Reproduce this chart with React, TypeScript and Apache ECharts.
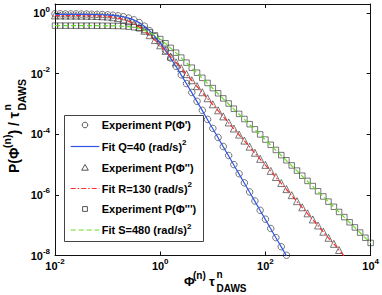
import React, { useEffect, useRef } from 'react';
import * as echarts from 'echarts';

// Φ^(n) τ^n grid (log-spaced, 10 per decade)
const phiGrid = [
  0.01, 0.0126, 0.0158, 0.02, 0.0251, 0.0316, 0.0398, 0.0501, 0.0631, 0.0794,
  0.1, 0.126, 0.158, 0.2, 0.251, 0.316, 0.398, 0.501, 0.631, 0.794,
  1, 1.26, 1.58, 2, 2.51, 3.16, 3.98, 5.01, 6.31, 7.94,
  10, 12.6, 15.8, 20, 25.1, 31.6, 39.8, 50.1, 63.1, 79.4,
  100, 126, 158, 200, 251, 316, 398, 501, 631, 794,
  1000, 1260, 1580, 2000, 2510, 3160, 3980, 5010, 6310, 7940,
  10000,
];

// Experiment P(Φ')  (circles)
const expPhi1 = [
  0.95, 0.95, 0.94, 0.94, 0.94, 0.93, 0.93, 0.92, 0.91, 0.9,
  0.88, 0.855, 0.815, 0.76, 0.69, 0.6, 0.49, 0.372, 0.262, 0.168,
  0.104, 0.0598, 0.033, 0.0176, 0.0092, 0.00472, 0.00241, 0.00123, 6.2e-4, 3.1e-4,
  1.57e-4, 7.9e-5, 3.95e-5, 2.0e-5, 1.0e-5, 5.0e-6, 2.5e-6, 1.25e-6, 6.3e-7, 3.1e-7,
  1.58e-7, 7.8e-8, 3.9e-8, 1.95e-8, 1.02e-8,
];
// Fit Q=40
const fitQ = [
  0.912, 0.912, 0.91, 0.91, 0.909, 0.908, 0.906, 0.901, 0.894, 0.885,
  0.869, 0.845, 0.809, 0.759, 0.687, 0.596, 0.486, 0.37, 0.261, 0.169,
  0.103, 0.059, 0.0325, 0.0173, 0.00902, 0.00465, 0.00237, 0.0012, 6.04e-4, 3.04e-4,
  1.53e-4, 7.67e-5, 3.85e-5, 1.93e-5, 9.66e-6, 4.84e-6, 2.43e-6, 1.22e-6, 6.1e-7, 3.05e-7,
  1.53e-7, 7.67e-8, 3.85e-8, 1.93e-8, 9.66e-9,
];
// Experiment P(Φ'')  (triangles)
const expPhi2 = [
  0.84, 0.835, 0.833, 0.83, 0.828, 0.825, 0.82, 0.815, 0.805, 0.79,
  0.768, 0.732, 0.683, 0.62, 0.538, 0.446, 0.35, 0.262, 0.187, 0.129,
  0.0865, 0.0568, 0.0368, 0.0237, 0.0152, 0.0097, 0.0061, 0.00388, 0.00245, 0.00155,
  9.8e-4, 6.2e-4, 3.9e-4, 2.46e-4, 1.55e-4, 9.8e-5, 6.2e-5, 3.9e-5, 2.46e-5, 1.55e-5,
  9.8e-6, 6.2e-6, 3.9e-6, 2.46e-6, 1.55e-6, 9.8e-7, 6.2e-7, 3.9e-7, 2.46e-7, 1.55e-7,
  9.8e-8, 6.1e-8, 3.85e-8, 2.42e-8, 1.52e-8,
];
// Fit R=130
const fitR = [
  0.832, 0.832, 0.83, 0.829, 0.827, 0.824, 0.82, 0.814, 0.804, 0.789,
  0.766, 0.731, 0.682, 0.618, 0.537, 0.445, 0.349, 0.261, 0.186, 0.128,
  0.0857, 0.0562, 0.0363, 0.0233, 0.0149, 0.00944, 0.00598, 0.00378, 0.00239, 0.00151,
  9.53e-4, 6.03e-4, 3.8e-4, 2.4e-4, 1.51e-4, 9.55e-5, 6.03e-5, 3.8e-5, 2.4e-5, 1.51e-5,
  9.55e-6, 6.03e-6, 3.8e-6, 2.4e-6, 1.51e-6, 9.55e-7, 6.03e-7, 3.8e-7, 2.4e-7, 1.51e-7,
  9.55e-8, 6.03e-8, 3.8e-8, 2.4e-8, 1.51e-8, 9.55e-9,
];
// Experiment P(Φ''')  (squares)
const expPhi3 = [
  0.386, 0.386, 0.386, 0.385, 0.385, 0.385, 0.385, 0.385, 0.384, 0.383,
  0.382, 0.379, 0.376, 0.37, 0.359, 0.342, 0.315, 0.277, 0.233, 0.184,
  0.139, 0.101, 0.0712, 0.0495, 0.034, 0.0232, 0.0158, 0.0108, 0.0073, 0.00495,
  0.00335, 0.00226, 0.00153, 0.00104, 7.0e-4, 4.72e-4, 3.2e-4, 2.16e-4, 1.46e-4, 9.9e-5,
  6.7e-5, 4.5e-5, 3.05e-5, 2.06e-5, 1.39e-5, 9.4e-6, 6.35e-6, 4.3e-6, 2.9e-6, 1.96e-6,
  1.32e-6, 8.9e-7, 6.0e-7, 4.06e-7, 2.74e-7, 1.85e-7, 1.25e-7, 8.45e-8, 5.7e-8, 3.85e-8,
  2.6e-8,
];
// Fit S=480
const fitS = [
  0.385, 0.385, 0.385, 0.385, 0.385, 0.385, 0.385, 0.385, 0.384, 0.383,
  0.382, 0.379, 0.376, 0.369, 0.358, 0.34, 0.313, 0.275, 0.231, 0.182,
  0.137, 0.0995, 0.0701, 0.0486, 0.0333, 0.0227, 0.0154, 0.0105, 0.00708, 0.0048,
  0.00324, 0.00219, 0.00148, 0.001, 6.78e-4, 4.58e-4, 3.1e-4, 2.09e-4, 1.42e-4, 9.57e-5,
  6.47e-5, 4.38e-5, 2.96e-5, 2.0e-5, 1.35e-5, 9.14e-6, 6.18e-6, 4.18e-6, 2.82e-6, 1.91e-6,
  1.29e-6, 8.73e-7, 5.9e-7, 3.99e-7, 2.7e-7, 1.82e-7, 1.23e-7, 8.34e-8, 5.64e-8, 3.81e-8,
  2.58e-8,
];

const legendLabels = [
  "Experiment P(Φ')",
  'Fit Q=40 (rad/s){s|2}',
  "Experiment P(Φ'')",
  'Fit R=130 (rad/s){s|2}',
  "Experiment P(Φ''')",
  'Fit S=480 (rad/s){s|2}',
];
const seriesNames = [
  "Experiment P(Φ')",
  'Fit Q=40 (rad/s)²',
  "Experiment P(Φ'')",
  'Fit R=130 (rad/s)²',
  "Experiment P(Φ''')",
  'Fit S=480 (rad/s)²',
];

const FONT = '"Liberation Sans", Arial, Helvetica, sans-serif';
const X_MIN = 0.01;
const X_MAX = 10000;
const Y_MIN = 1e-8;
const Y_MAX = 2;

const BLUE = '#2d55e8';
const RED = '#ff2a2a';
const GREEN = '#66dd22';
const MARK = '#2a2a2a';

function pairs(ys: number[]) {
  return ys.map((y, i) => [phiGrid[i], y]);
}

function expLabel(v: number) {
  const l = Math.log10(v);
  const e = Math.round(l);
  if (Math.abs(l - e) > 1e-6 || e % 2 !== 0) return '';
  return `{b|10}{s|${e}}`;
}

const richAxis = {
  b: { fontFamily: FONT, fontWeight: 'bold', fontSize: 11, color: '#000', lineHeight: 16 },
  s: { fontFamily: FONT, fontWeight: 'bold', fontSize: 8, color: '#000', verticalAlign: 'top' },
};

const markerStyle = { color: 'rgba(0,0,0,0)', borderColor: MARK, borderWidth: 0.8 };

export default function App() {
  const ref = useRef<HTMLDivElement>(null);
  useEffect(() => {
    if (!ref.current) return;
    const chart = echarts.init(ref.current, undefined, { renderer: 'svg' });
    const axisLine = { show: true, onZero: false, lineStyle: { color: '#111', width: 1 } };
    const axisTick = { show: true, inside: true, length: 4, lineStyle: { color: '#111', width: 1 } };
    const small = { fontFamily: FONT, fontWeight: 'bold', fontSize: 10, fill: '#000' };
    const main = { fontFamily: FONT, fontWeight: 'bold', fontSize: 13, fill: '#000' };
    const ySmall = { ...small, fontSize: 10.5 };
    const yMain = { ...main, fontSize: 14 };
    const legText = { fontFamily: FONT, fontWeight: 'bold', fontSize: 11, fill: '#000', lineHeight: 16,
      rich: { s: { fontFamily: FONT, fontWeight: 'bold', fontSize: 8, fill: '#000', verticalAlign: 'top' } } };

    const rowY = [125, 146.5, 167.8, 188.5, 209, 230];
    const iconX = 85;
    const legendChildren: any[] = [
      { type: 'rect', shape: { x: 64.5, y: 115.5, width: 139, height: 126 }, style: { fill: '#fff', stroke: '#444', lineWidth: 1 } },
      { type: 'circle', shape: { cx: iconX, cy: rowY[0], r: 2.8 }, style: { fill: 'none', stroke: MARK, lineWidth: 0.8 } },
      { type: 'line', shape: { x1: 70.7, y1: rowY[1], x2: 99.3, y2: rowY[1] }, style: { stroke: BLUE, lineWidth: 1.2 } },
      { type: 'polygon', shape: { points: [[iconX, rowY[2] - 3.3], [iconX + 3.3, rowY[2] + 2.4], [iconX - 3.3, rowY[2] + 2.4]] }, style: { fill: 'none', stroke: MARK, lineWidth: 0.8 } },
      { type: 'line', shape: { x1: 70.7, y1: rowY[3], x2: 99.3, y2: rowY[3] }, style: { stroke: RED, lineWidth: 1.2, lineDash: [5, 2, 1.5, 2] } },
      { type: 'rect', shape: { x: iconX - 2.4, y: rowY[4] - 2.4, width: 4.8, height: 4.8 }, style: { fill: 'none', stroke: MARK, lineWidth: 0.8 } },
      { type: 'line', shape: { x1: 70.7, y1: rowY[5], x2: 99.3, y2: rowY[5] }, style: { stroke: GREEN, lineWidth: 1.2, lineDash: [5, 3] } },
    ];
    legendLabels.forEach((t, i) => {
      legendChildren.push({ type: 'text', x: 101.7, y: rowY[i], style: { ...legText, text: t, verticalAlign: 'middle' } });
    });

    chart.setOption({
      animation: false,
      backgroundColor: '#fff',
      grid: { left: 55, right: 4.5, top: 4, bottom: 39.5, containLabel: false },
      xAxis: [
        {
          type: 'log', logBase: 100, min: X_MIN, max: X_MAX, position: 'bottom',
          axisLine, axisTick, splitLine: { show: false }, minorTick: { show: false },
          axisLabel: { formatter: expLabel, rich: richAxis, margin: 2, showMinLabel: true, showMaxLabel: true,
            alignMinLabel: 'center', alignMaxLabel: 'center', hideOverlap: false },
        },
        {
          type: 'log', logBase: 100, min: X_MIN, max: X_MAX, position: 'top',
          axisLine, axisTick, splitLine: { show: false }, axisLabel: { show: false },
        },
      ],
      yAxis: [
        {
          type: 'log', logBase: 100, min: Y_MIN, max: Y_MAX, position: 'left',
          axisLine, axisTick, splitLine: { show: false }, minorTick: { show: false },
          axisLabel: { formatter: expLabel, rich: richAxis, margin: 5 },
        },
        {
          type: 'log', logBase: 100, min: Y_MIN, max: Y_MAX, position: 'right',
          axisLine, axisTick, splitLine: { show: false }, axisLabel: { show: false },
        },
      ],
      series: [
        { name: seriesNames[0], type: 'scatter', data: pairs(expPhi1), symbol: 'circle', symbolSize: 6.5, itemStyle: markerStyle, z: 2 },
        { name: seriesNames[1], type: 'line', data: pairs(fitQ), symbol: 'none', showSymbol: false,
          lineStyle: { color: BLUE, width: 1.2 }, itemStyle: { color: BLUE }, z: 3 },
        { name: seriesNames[2], type: 'scatter', data: pairs(expPhi2), symbol: 'triangle', symbolSize: 7, itemStyle: markerStyle, z: 2 },
        { name: seriesNames[3], type: 'line', data: pairs(fitR), symbol: 'none', showSymbol: false,
          lineStyle: { color: RED, width: 1.2, type: [5, 2, 1.5, 2] }, itemStyle: { color: RED }, z: 3 },
        { name: seriesNames[4], type: 'scatter', data: pairs(expPhi3), symbol: 'rect', symbolSize: 5.5, itemStyle: markerStyle, z: 2 },
        { name: seriesNames[5], type: 'line', data: pairs(fitS), symbol: 'none', showSymbol: false,
          lineStyle: { color: GREEN, width: 1.2, type: [5, 3] }, itemStyle: { color: GREEN }, z: 3 },
      ],
      graphic: [
        { type: 'group', x: 0, y: 0, silent: true, z: 100, children: legendChildren },
        {
          type: 'group', x: 0, y: 0, silent: true,
          children: [
            { type: 'text', x: 184, y: 281, style: { ...main, text: 'Φ', verticalAlign: 'middle' } },
            { type: 'text', x: 193, y: 275.5, style: { ...small, text: '(n)', verticalAlign: 'middle' } },
            { type: 'text', x: 209, y: 281, style: { ...main, text: 'τ', verticalAlign: 'middle' } },
            { type: 'text', x: 216.5, y: 274.5, style: { ...small, text: 'n', verticalAlign: 'middle' } },
            { type: 'text', x: 216.5, y: 288.5, style: { ...small, text: 'DAWS', verticalAlign: 'middle' } },
          ],
        },
        {
          type: 'group', x: 13.5, y: 173, rotation: Math.PI / 2, silent: true,
          children: [
            { type: 'text', x: 0, y: 0, style: { ...yMain, text: 'P(Φ', verticalAlign: 'middle' } },
            { type: 'text', x: 25, y: -7, style: { ...ySmall, text: '(n)', verticalAlign: 'middle' } },
            { type: 'text', x: 38.5, y: 0, style: { ...yMain, text: ') / τ', verticalAlign: 'middle' } },
            { type: 'text', x: 62.5, y: -7, style: { ...ySmall, text: 'n', verticalAlign: 'middle' } },
            { type: 'text', x: 62.5, y: 8.5, style: { ...ySmall, text: 'DAWS', verticalAlign: 'middle' } },
          ],
        },
      ],
    });
    return () => chart.dispose();
  }, []);
  return <div ref={ref} style={{ position: 'fixed', left: 0, top: 0, width: 382, height: 295 }} />;
}
